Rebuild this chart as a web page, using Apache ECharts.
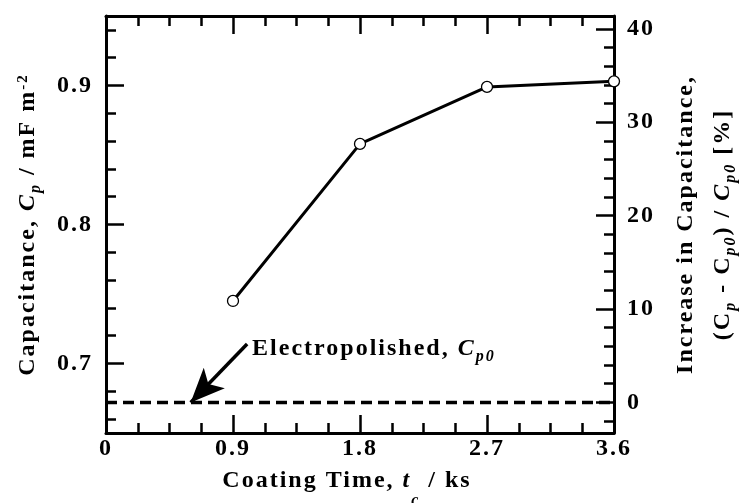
<!DOCTYPE html>
<html>
<head>
<meta charset="utf-8">
<script src="https://cdn.jsdelivr.net/npm/echarts@6/dist/echarts.min.js"></script>
<style>
  html, body { margin: 0; background: #fff; }
  #chart { width: 747px; height: 503px; }
</style>
</head>
<body>
<div id="chart"></div>
<script>
// the original figure uses loosely tracked serif lettering
const ctxProto = CanvasRenderingContext2D.prototype
;['fillText', 'strokeText', 'measureText'].forEach(fn => {
  const orig = ctxProto[fn]
  ctxProto[fn] = function (...args) {
    this.letterSpacing = '2px'
    return orig.apply(this, args)
  }
})

// data
const coatingTime = [0.9, 1.8, 2.7, 3.6]            // t_c / ks
const capacitance = [0.745, 0.858, 0.899, 0.903]    // C_p / mF m^-2
const cpElectropolished = 0.672                     // C_p0

// axes
const xMin = 0, xMax = 3.6, xStep = 0.9
const cpMin = 0.65, cpMax = 0.95
const cpMajorTicks = [0.7, 0.8, 0.9]
const cpMinorTicks = [0.66, 0.68, 0.72, 0.74, 0.76, 0.78, 0.82, 0.84, 0.86, 0.88, 0.92, 0.94]
const incMajorTicks = [0, 10, 20, 30, 40]
const incMinorTicks = [-2, 2, 4, 6, 8, 12, 14, 16, 18, 22, 24, 26, 28, 32, 34, 36, 38]
// right axis is the same scale expressed as % increase over C_p0
const incMin = (cpMin / cpElectropolished - 1) * 100
const incMax = (cpMax / cpElectropolished - 1) * 100

// annotation arrow (data coords)
const noteFrom = [1.0, 0.714]
const noteTo = [0.6, cpElectropolished]

const serif = 'Liberation Serif'
const black = '#000'
const labelFont = { fontFamily: serif, fontWeight: 'bold', fontSize: 24, color: black }
const mainTok = { fontFamily: serif, fontWeight: 'bold', fontSize: 24, lineHeight: 24, verticalAlign: 'top', color: black }
const subTok = { fontFamily: serif, fontWeight: 'bold', fontStyle: 'italic', fontSize: 16, verticalAlign: 'bottom', color: black }
const rich = {
  b: mainTok,
  b1: { ...mainTok, lineHeight: 37 },
  bi: { ...mainTok, fontStyle: 'italic' },
  sub: { ...subTok, lineHeight: 30 },
  subx: { ...subTok, lineHeight: 42 },
  sup: { fontFamily: serif, fontWeight: 'bold', fontSize: 15, lineHeight: 15, verticalAlign: 'top', color: black }
}

const axisLine = { show: true, onZero: false, lineStyle: { color: black, width: 3 } }
const majorTick = { show: true, inside: true, length: 18, lineStyle: { color: black, width: 2.5 } }
const minorTickLen = 10

const xAxisBase = {
  type: 'value', min: xMin, max: xMax, interval: xStep,
  axisLine,
  axisTick: majorTick,
  minorTick: { show: true, splitNumber: 4, length: minorTickLen, lineStyle: { color: black, width: 2.5 } },
  splitLine: { show: false }
}

const minorYAxis = (position, min, max, ticks) => ({
  type: 'value', position, min, max,
  axisLine: { show: false, onZero: false },
  axisTick: { ...majorTick, length: minorTickLen, customValues: ticks },
  axisLabel: { show: false },
  splitLine: { show: false }
})

const chart = echarts.init(document.getElementById('chart'))

chart.setOption({
  animation: false,
  backgroundColor: '#fff',
  grid: { left: 106, right: 133, top: 16, bottom: 70, outerBoundsMode: 'none' },
  xAxis: [
    {
      ...xAxisBase,
      position: 'bottom',
      axisLabel: {
        ...labelFont, margin: 3,
        formatter: v => (v === 0 ? '0' : v.toFixed(1))
      },
      name: '{b|Coating Time, }{bi|t}{subx|c}{b| / ks}',
      nameLocation: 'middle',
      nameGap: 35,
      nameTextStyle: { rich, padding: [0, 26, 0, 0] }
    },
    { ...xAxisBase, position: 'top', axisLabel: { show: false } }
  ],
  yAxis: [
    {
      type: 'value', position: 'left', min: cpMin, max: cpMax,
      axisLine,
      axisTick: { ...majorTick, customValues: cpMajorTicks },
      axisLabel: {
        ...labelFont, margin: 13, padding: [0, 0, 7, 0],
        customValues: cpMajorTicks,
        formatter: v => v.toFixed(1)
      },
      splitLine: { show: false },
      name: '{b|Capacitance, }{bi|C}{sub|p}{b| / mF m}{sup|-2}',
      nameLocation: 'middle',
      nameRotate: 90,
      nameGap: 61,
      nameTextStyle: { rich }
    },
    minorYAxis('left', cpMin, cpMax, cpMinorTicks),
    {
      type: 'value', position: 'right', min: incMin, max: incMax,
      axisLine,
      axisTick: { ...majorTick, customValues: incMajorTicks },
      axisLabel: { ...labelFont, margin: 13, customValues: incMajorTicks },
      splitLine: { show: false },
      name: '{b1|Increase in Capacitance,}\n{b|(C}{sub|p}{b| - C}{sub|p0}{b|) / }{bi|C}{sub|p0}{b| [%]}',
      nameLocation: 'middle',
      nameRotate: 90,
      nameGap: 59,
      nameTextStyle: { rich }
    },
    minorYAxis('right', incMin, incMax, incMinorTicks)
  ],
  series: [
    {
      name: 'electropolished',
      type: 'line',
      xAxisIndex: 0, yAxisIndex: 0,
      data: [[xMin, cpElectropolished], [xMax, cpElectropolished]],
      symbol: 'none',
      lineStyle: { color: black, width: 3.5, type: [11, 6] },
      silent: true,
      z: 1,
      markLine: {
        silent: true,
        label: { show: false },
        lineStyle: { color: black, width: 3.5, type: 'solid' },
        data: [[
          { coord: noteFrom, symbol: 'none' },
          { coord: noteTo, symbol: 'arrow', symbolSize: [22, 34] }
        ]]
      },
      markPoint: {
        silent: true,
        symbol: 'circle',
        symbolSize: 0,
        label: {
          show: true,
          position: 'right',
          distance: 5,
          offset: [0, 7],
          formatter: '{b|Electropolished, }{bi|C}{sub|p0}',
          rich
        },
        data: [{ coord: noteFrom }]
      }
    },
    {
      name: 'coated',
      type: 'line',
      xAxisIndex: 0, yAxisIndex: 0,
      data: coatingTime.map((t, i) => [t, capacitance[i]]),
      symbol: 'circle',
      symbolSize: 11,
      clip: false,
      itemStyle: { color: '#fff', borderColor: black, borderWidth: 1.3 },
      lineStyle: { color: black, width: 3 },
      z: 3
    }
  ]
})

window.addEventListener('resize', () => chart.resize())
</script>
</body>
</html>
